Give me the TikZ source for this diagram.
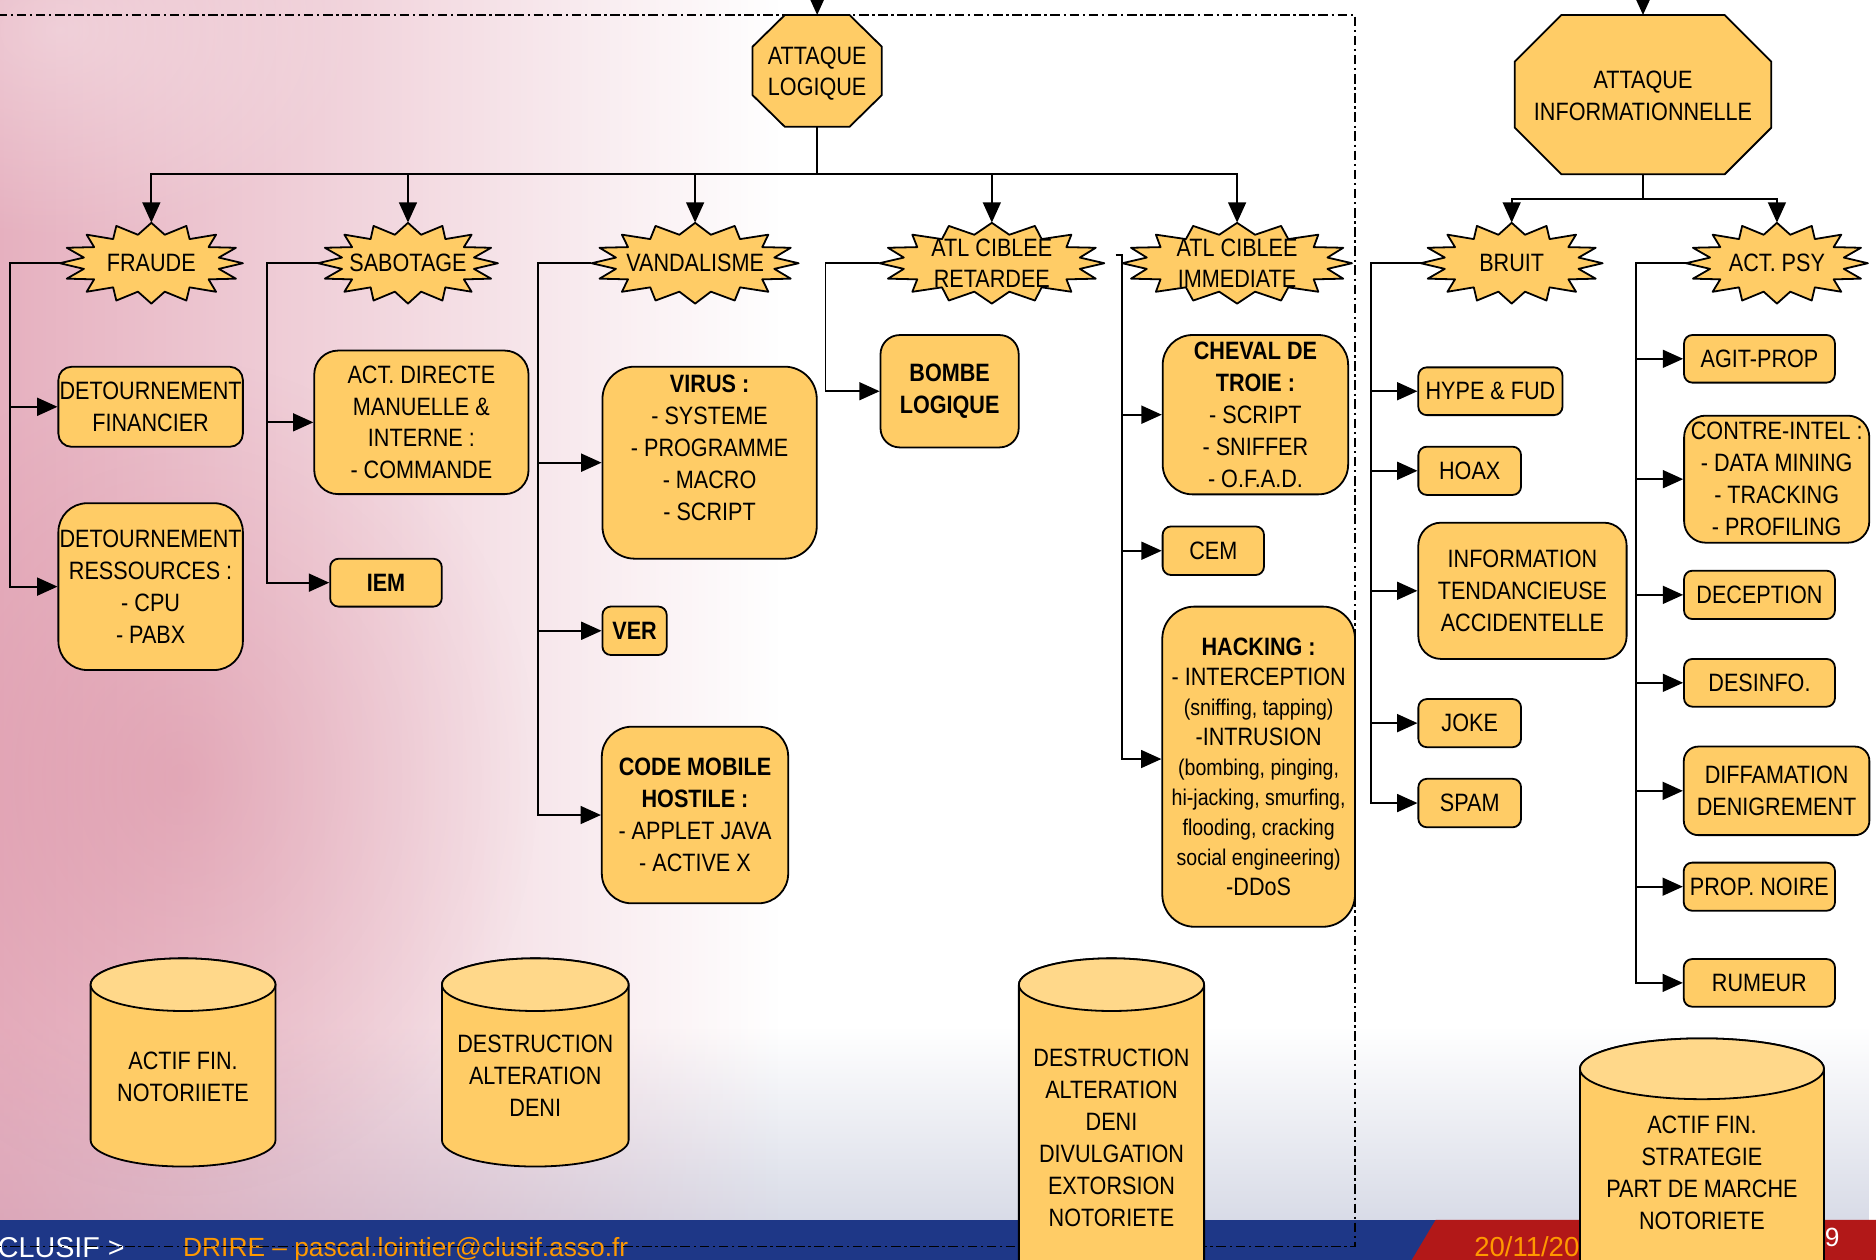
\documentclass[tikz,border=0pt]{standalone}
\usepackage{fontspec}
\setmainfont[FakeStretch=0.86]{Liberation Sans}
\newfontfamily\bandfont{Liberation Sans}
\usetikzlibrary{arrows.meta,fadings,calc}

\definecolor{boxfill}{RGB}{255,204,102}
\definecolor{drumtop}{RGB}{255,216,138}
\definecolor{bandblue}{RGB}{30,55,135}
\definecolor{bandred}{RGB}{178,24,24}
\definecolor{bandorange}{RGB}{255,153,0}
\definecolor{rosebg}{RGB}{222,150,170}
\definecolor{rosedeep}{RGB}{205,105,130}
\definecolor{slatebg}{RGB}{190,195,215}

\tikzfading[name=roseout, left color=transparent!0, right color=transparent!100]
\tikzfading[name=slatein, top color=transparent!100, bottom color=transparent!0]
\tikzfading[name=softspot, inner color=transparent!0, outer color=transparent!100]

% octagon from its box: x1 x2 y1 y2 chamfer-x chamfer-y (y counted downwards)
\newcommand\octagonpath[6]{%
  \filldraw[shapeline] (#1+#5,-#3) -- (#2-#5,-#3) -- (#2,-#3-#6) -- (#2,-#4+#6)
    -- (#2-#5,-#4) -- (#1+#5,-#4) -- (#1,-#4+#6) -- (#1,-#3-#6) -- cycle;}

% regular 16-point burst: cx cy rx ry (outer tips)
\newcommand\burstpath[4]{%
  \filldraw[shapeline] (#1+#3,-#2) \foreach \k in {1,...,31}{
    -- ({#1+(#3-19*mod(\k,2))*cos(\k*11.25)},{-#2+(#4-9.5*mod(\k,2))*sin(\k*11.25)})} -- cycle;}

% drum (cylinder): cx rx top-centre bottom-centre ry
\newcommand\drumpath[5]{%
  \filldraw[shapeline] (#1-#2,-#3) -- (#1-#2,-#4)
    arc[start angle=180,end angle=360,x radius=#2,y radius=#5]
    -- (#1+#2,-#3) arc[start angle=0,end angle=180,x radius=#2,y radius=#5] -- cycle;
  \filldraw[shapeline, fill=drumtop] (#1,-#3) ellipse[x radius=#2, y radius=#5];}

\begin{document}
\begin{tikzpicture}[x=1pt,y=1pt,
  every node/.style={inner sep=0pt, align=center, font=\fontsize{21}{26.7}\selectfont},
  shapeline/.style={line width=1.5pt, fill=boxfill, line join=round},
  box/.style={draw, line width=1.5pt, fill=boxfill, rounded corners=#1},
  box/.default=7pt,
  link/.style={line width=1.5pt},
  arr/.style={line width=1.5pt, -{Triangle[length=17pt,width=15pt]}},
  bandtext/.style={font=\bandfont\fontsize{22}{26}\selectfont, anchor=base west},
  frame/.style={line width=1.2pt, dash pattern=on 8pt off 3pt on 2pt off 3pt}]
\useasboundingbox (0,0) rectangle (1568,-1053);

% ---------- background ----------
\begin{scope}
\clip (0,0) rectangle (1568,-1053);
\fill[white] (0,0) rectangle (1568,-1053);
\fill[slatebg, path fading=slatein, fill opacity=0.6] (0,-860) rectangle (1568,-1022);
\fill[rosebg, path fading=roseout, fill opacity=0.75] (0,0) rectangle (650,-1022);
\fill[rosedeep, path fading=softspot, fill opacity=0.3] (-150,-300) rectangle (450,-1000);
\fill[white, path fading=softspot, fill opacity=0.35] (-200,150) rectangle (300,-200);
\fill[bandblue] (0,-1019.5) rectangle (1568,-1053);
\fill[bandred] (1200,-1019.5) -- (1568,-1019.5) -- (1568,-1053) -- (1180,-1053) -- cycle;

\node[bandtext, text=white, font=\bandfont\fontsize{24}{26}\selectfont] (clusif) at (-2,-1051) {CLUSIF >};
\node[bandtext, text=bandorange] (contact) at (152.9,-1050.5) {DRIRE – pascal.lointier@clusif.asso.fr};
\node[bandtext, text=bandorange, font=\bandfont\fontsize{23}{26}\selectfont] (date) at (1232,-1050) {20/11/200};
\node[bandtext, text=white] (pageno) at (1525,-1042) {9};
\end{scope}

% ---------- logical-attack frame ----------
\draw[frame] (-2,-12.5) -- (1132.6,-12.5) -- (1132.6,-1042) -- (-2,-1042);

% ---------- roots ----------
\octagonpath{629}{737}{12.5}{106}{27}{26.5}
\node[minimum width=108pt, minimum height=93.5pt] (alog) at (683,-61.5) {ATTAQUE\\LOGIQUE};
\octagonpath{1266}{1480.5}{12.5}{145.7}{39}{39}
\node[minimum width=214.5pt, minimum height=133.2pt] (ainfo) at (1373.25,-80.5) {ATTAQUE\\INFORMATIONNELLE};

% ---------- categories ----------
\burstpath{126.5}{220}{76.5}{33.75}
\node[minimum width=153pt, minimum height=67.5pt] (fraude) at (126.5,-220) {FRAUDE};
\burstpath{341}{220}{75.2}{33.75}
\node[minimum width=150.4pt, minimum height=67.5pt] (sabot) at (341,-220) {SABOTAGE};
\burstpath{581}{220}{86.5}{33.75}
\node[minimum width=173pt, minimum height=67.5pt] (vandal) at (581,-220) {VANDALISME};
\burstpath{829}{220}{94}{33.75}
\node[minimum width=188pt, minimum height=67.5pt] (retard) at (829,-220) {ATL CIBLEE\\RETARDEE};
\burstpath{1034}{220}{96}{33.75}
\node[minimum width=192pt, minimum height=67.5pt] (immed) at (1034,-220) {ATL CIBLEE\\IMMEDIATE};
\burstpath{1263.5}{220}{76}{33.75}
\node[minimum width=152pt, minimum height=67.5pt] (bruit) at (1263.5,-220) {BRUIT};
\burstpath{1485.2}{220}{76}{33.75}
\node[minimum width=152pt, minimum height=67.5pt] (actpsy) at (1485.2,-220) {ACT. PSY};

% ---------- leaves ----------
\node[box=11pt, minimum width=154.2pt, minimum height=66.9pt] (detfin) at (125.9,-340) {DETOURNEMENT\\FINANCIER};
\node[box=24pt, minimum width=154.2pt, minimum height=139.4pt] (detres) at (125.9,-490.3) {DETOURNEMENT\\RESSOURCES :\\- CPU\\- PABX};
\node[box=20pt, minimum width=179.1pt, minimum height=120pt] (actdir) at (352.2,-353) {ACT. DIRECTE\\MANUELLE \&\\INTERNE :\\- COMMANDE};
\node[box, minimum width=93.3pt, minimum height=40pt] (iem) at (322.6,-487) {\textbf{IEM}};
\node[box=27pt, minimum width=179.1pt, minimum height=160.5pt] (virus) at (593.1,-386.7) {};
\node (virustext) at (593.1,-374.5) {\textbf{VIRUS :}\\- SYSTEME\\- PROGRAMME\\- MACRO\\- SCRIPT};
\node[box, minimum width=53.7pt, minimum height=40.5pt] (ver) at (530.4,-527.2) {\textbf{VER}};
\node[box=25pt, minimum width=155.8pt, minimum height=147.6pt] (codemob) at (580.9,-681.2) {\textbf{CODE MOBILE}\\\textbf{HOSTILE :}\\- APPLET JAVA\\- ACTIVE X};
\node[box=16pt, minimum width=115.5pt, minimum height=93.9pt] (bombe) at (793.7,-327) {\textbf{BOMBE}\\\textbf{LOGIQUE}};
\node[box=25pt, minimum width=155pt, minimum height=133.2pt] (cheval) at (1049.3,-346.6) {\textbf{CHEVAL DE}\\\textbf{TROIE :}\\- SCRIPT\\- SNIFFER\\- O.F.A.D.};
\node[box, minimum width=84.7pt, minimum height=40.6pt] (cem) at (1014.1,-460.3) {CEM};
\node[box=27pt, minimum width=161.1pt, minimum height=267.6pt, font=\fontsize{21}{25.1}\selectfont] (hacking) at (1052,-640.8)
  {\textbf{HACKING :}\\- INTERCEPTION\\{\fontsize{19}{25.1}\selectfont (sniffing, tapping)}\\-INTRUSION\\
   {\fontsize{19}{25.1}\selectfont (bombing, pinging,}\\{\fontsize{19}{25.1}\selectfont hi-jacking, smurfing,}\\
   {\fontsize{19}{25.1}\selectfont flooding, cracking}\\{\fontsize{19}{25.1}\selectfont social engineering)}\\-DDoS};

\node[box, minimum width=120.5pt, minimum height=39.9pt] (hype) at (1245.7,-327) {HYPE \& FUD};
\node[box, minimum width=85.8pt, minimum height=40.3pt] (hoax) at (1228.4,-393.5) {HOAX};
\node[box=19pt, minimum width=174.1pt, minimum height=113.9pt] (info) at (1272.5,-493.8) {INFORMATION\\TENDANCIEUSE\\ACCIDENTELLE};
\node[box, minimum width=85.8pt, minimum height=40.2pt] (joke) at (1228.4,-604.4) {JOKE};
\node[box, minimum width=85.8pt, minimum height=40.5pt] (spam) at (1228.4,-671.2) {SPAM};

\node[box, minimum width=126.1pt, minimum height=39.8pt] (agit) at (1470.6,-299.9) {AGIT-PROP};
\node[box=18pt, minimum width=154.8pt, minimum height=106.2pt] (contre) at (1485,-400.5) {CONTRE-INTEL :\\- DATA MINING\\- TRACKING\\- PROFILING};
\node[box, minimum width=126.1pt, minimum height=40.4pt] (decep) at (1470.6,-497.2) {DECEPTION};
\node[box, minimum width=126.1pt, minimum height=39.9pt] (desinfo) at (1470.6,-570.7) {DESINFO.};
\node[box=12pt, minimum width=155.1pt, minimum height=74pt] (diffam) at (1484.9,-661) {DIFFAMATION\\DENIGREMENT};
\node[box, minimum width=126.4pt, minimum height=40.2pt] (propn) at (1470.5,-741.1) {PROP. NOIRE};
\node[box, minimum width=126.4pt, minimum height=39.8pt] (rumeur) at (1470.5,-821.5) {RUMEUR};

% ---------- stakes ----------
\drumpath{153}{77.25}{823}{953}{22}
\node (drumA) at (153,-900) {ACTIF FIN.\\NOTORIIETE};
\drumpath{447.4}{78}{823}{953}{22}
\node (drumB) at (447.4,-899) {DESTRUCTION\\ALTERATION\\DENI};
\drumpath{929}{77.4}{823}{1060}{22}
\node (drumC) at (929,-951) {DESTRUCTION\\ALTERATION\\DENI\\DIVULGATION\\EXTORSION\\NOTORIETE};
\drumpath{1422.5}{102}{893.3}{1055}{25.4}
\node (drumD) at (1422.5,-980) {ACTIF FIN.\\STRATEGIE\\PART DE MARCHE\\NOTORIETE};

% ---------- connectors ----------
\coordinate (feedL) at (683,8);
\coordinate (feedI) at (1373.25,8);
\coordinate (alogTop) at (683,-12.5);
\coordinate (ainfoTop) at (1373.25,-12.5);
\coordinate (alogBot) at (683,-106);
\coordinate (ainfoBot) at (1373.25,-145.7);
\draw[arr] (feedL) -- (alogTop);
\draw[arr] (feedI) -- (ainfoTop);

\coordinate (busL) at (683,-145.7);
\draw[link] (alogBot) -- (busL);
\foreach \t in {fraude,sabot,vandal,retard,immed} \draw[arr] (busL) -| (\t.north);

\coordinate (busI) at (1373.25,-166.3);
\draw[link] (ainfoBot) -- (busI);
\foreach \t in {bruit,actpsy} \draw[arr] (busI) -| (\t.north);

\coordinate (trF) at (8.4,-220);
\draw[arr] (fraude.west) -- (trF) |- (detres.west);
\draw[arr] (trF |- detfin.west) -- (detfin.west);

\coordinate (trS) at (223,-220);
\draw[arr] (sabot.west) -- (trS) |- (iem.west);
\draw[arr] (trS |- actdir.west) -- (actdir.west);

\coordinate (trV) at (449.7,-220);
\draw[arr] (vandal.west) -- (trV) |- (codemob.west);
\draw[arr] (trV |- virus.west) -- (virus.west);
\draw[arr] (trV |- ver.west) -- (ver.west);

\coordinate (trR) at (690,-220);
\draw[arr] (retard.west) -- (trR) |- (bombe.west);

\coordinate (tickI) at (932.5,-213);
\coordinate (trI) at (937.5,-213);
\draw[arr] (tickI) -- (trI) |- ($(hacking.west)+(0,6.4)$);
\draw[arr] (trI |- cheval.west) -- (cheval.west);
\draw[arr] (trI |- cem.west) -- (cem.west);

\coordinate (trB) at (1146,-220);
\draw[arr] (bruit.west) -- (trB) |- (spam.west);
\foreach \t in {hype,hoax,info,joke} \draw[arr] (trB |- \t.west) -- (\t.west);

\coordinate (trP) at (1367.5,-220);
\draw[arr] (actpsy.west) -- (trP) |- (rumeur.west);
\foreach \t in {agit,contre,decep,desinfo,diffam,propn} \draw[arr] (trP |- \t.west) -- (\t.west);
\end{tikzpicture}
\end{document}
